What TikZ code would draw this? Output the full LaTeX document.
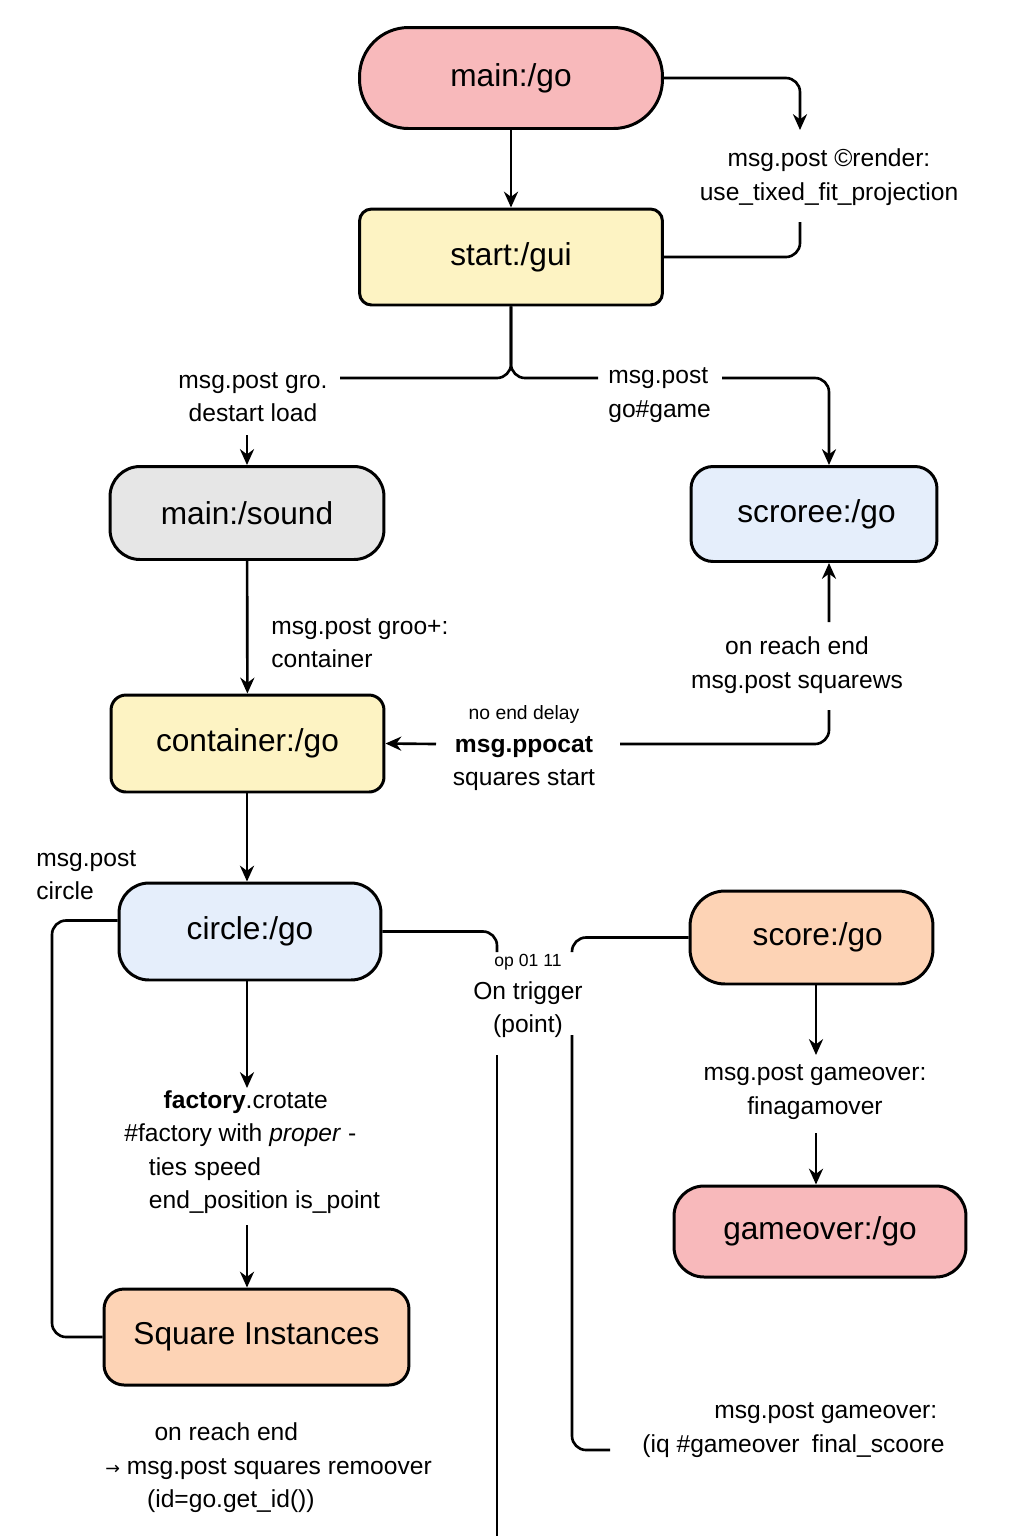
\documentclass[tikz,border=0pt]{standalone}
\usepackage{fontspec}
\setmainfont{Liberation Sans}
\newfontfamily\symfont{DejaVu Sans}
\usepackage{tikz}
\usetikzlibrary{arrows.meta}
\definecolor{pinkfill}{HTML}{F8B9BB}
\definecolor{yellowfill}{HTML}{FDF3C3}
\definecolor{grayfill}{HTML}{E6E6E6}
\definecolor{bluefill}{HTML}{E5EEFB}
\definecolor{peachfill}{HTML}{FDD3B5}
\begin{document}
\begin{tikzpicture}[x=0.02cm,y=-0.02cm]
    \tikzstyle{edge}  = [line width=1.5pt,rounded corners=8pt,draw=black]
    \tikzstyle{dedge} = [line width=1.5pt,rounded corners=8pt,->,>={Stealth[length=9pt,width=8pt]},draw=black]
    \tikzstyle{box}=[
      draw=black,
      line width=1.7pt,
      inner sep=0pt,
      font=\fontsize{18}{22}\selectfont,
    ]
    \tikzstyle{lbl}=[inner sep=0pt,align=center,font=\fontsize{14}{19}\selectfont]

    \useasboundingbox (0,0) rectangle (1024,1536);

    % boxes
    \node[box,fill=pinkfill,rounded corners=0.98cm,minimum width=6.06cm,minimum height=2.02cm] (main) at (511,78) {\raisebox{-2pt}{main:/go}};
    \node[box,fill=yellowfill,rounded corners=0.24cm,minimum width=6.06cm,minimum height=1.92cm] (start) at (511,257) {\raisebox{-2pt}{start:/gui}};
    \node[box,fill=grayfill,rounded corners=0.6cm,minimum width=5.48cm,minimum height=1.86cm] (sound) at (247,513) {main:/sound};
    \node[box,fill=bluefill,rounded corners=0.44cm,minimum width=4.92cm,minimum height=1.9cm] (scroree) at (814,514) {\hspace*{0.1cm}\raisebox{-2pt}{scroree:/go}};
    \node[box,fill=yellowfill,rounded corners=0.3cm,minimum width=5.46cm,minimum height=1.94cm] (container) at (247.5,743.5) {\raisebox{-2pt}{container:/go}};
    \node[box,fill=bluefill,rounded corners=0.6cm,minimum width=5.24cm,minimum height=1.94cm] (circle) at (250,931.5) {\raisebox{-2pt}{circle:/go}};
    \node[box,fill=peachfill,rounded corners=0.7cm,minimum width=4.86cm,minimum height=1.86cm] (score) at (811.5,937.5) {\hspace*{0.25cm}\raisebox{-2pt}{score:/go}};
    \node[box,fill=pinkfill,rounded corners=0.6cm,minimum width=5.84cm,minimum height=1.82cm] (gameover) at (820,1231.5) {\raisebox{-2pt}{gameover:/go}};
    \node[box,fill=peachfill,rounded corners=0.4cm,minimum width=6.1cm,minimum height=1.92cm] (square) at (256.5,1337) {\raisebox{-2pt}{Square Instances}};

    % labels
    \node[lbl] (render) at (829,177) {msg.post ©render:\\use\_tixed\_fit\_projection};
    \node[lbl] (gro) at (253,397) {msg.post gro.\\destart load};
    \node[lbl,anchor=west,align=left] (game) at (608,395) {msg.post\\go\#game};
    \node[lbl,anchor=west,align=left] (groo) at (271,643) {msg.post groo+:\\container};
    \node[lbl] (reach) at (797,665) {on reach end\\msg.post squarews};
    \node[lbl] (delay) at (524,748) {{\fontsize{11}{14}\selectfont no end delay}\\\textbf{msg.ppocat}\\squares start};
    \node[lbl,anchor=west,align=left] (post) at (36,875) {msg.post\\circle};
    \node[lbl] (trigger) at (528,996) {{\fontsize{10}{13}\selectfont op 01 11}\\On trigger\\(point)};
    \node[lbl,anchor=west,align=left] (factory) at (124,1152) {\hspace*{1.6em}\textbf{factory}.crotate\\\#factory with \textit{proper} -\\\hspace*{1em}ties speed\\\hspace*{1em}end\_position is\_point};
    \node[lbl,anchor=west,align=left] (remove) at (105,1468) {\hspace*{2em}on reach end\\{\symfont\fontsize{10}{12}\selectfont →} msg.post squares remoover\\\hspace*{1.7em}(id=go.get\_id())};
    \node[lbl] (final) at (815,1092) {msg.post gameover:\\finagamover};
    \node[lbl,anchor=east,align=right] (scoore) at (945,1430) {msg.post gameover:\hspace*{0.3em}\\(iq \#gameover\enspace final\_scoore};

    % free ends
    \coordinate (r1) at (800,130);
    \coordinate (r2) at (800,222);
    \coordinate (l1) at (340,378);
    \coordinate (l2) at (598,378);
    \coordinate (l3) at (247,435);
    \coordinate (l4) at (722,378);
    \coordinate (s1) at (829,622);
    \coordinate (s2) at (829,710);
    \coordinate (s3) at (620,744);
    \coordinate (s4) at (436,744);
    \coordinate (c1) at (52,1100);
    \coordinate (f1) at (247,1088);
    \coordinate (f2) at (247,1225);
    \coordinate (t1) at (497,952);
    \coordinate (t2) at (572,952);
    \coordinate (t3) at (497,1055);
    \coordinate (t4) at (497,1536);
    \coordinate (t5) at (572,1035);
    \coordinate (t6) at (610,1450);
    \coordinate (g1) at (816,1055);
    \coordinate (g2) at (816,1133);

    % connectors
    \draw[dedge] (main) -- (start);
    \draw[dedge] (main.east) -| (r1);
    \draw[edge] (r2) |- (start.east);
    \draw[edge] (start.south) |- (l1);
    \draw[edge] (start.south) |- (l2);
    \draw[dedge] (l3) -- (sound.north);
    \draw[dedge] (l4) -| ([xshift=0.3cm]scroree.north);
    \draw[dedge] (sound) -- (container);
    \draw[dedge] (s1) -- ([xshift=0.3cm]scroree.south);
    \draw[edge] (s2) |- (s3);
    \draw[dedge] (s4) -- (container.east);
    \draw[dedge] (container.south -| f1) -- (f1 |- circle.north);
    \draw[edge] ([yshift=0.22cm]circle.west) -| (c1) |- (square.west);
    \draw[dedge] (circle.south -| f1) -- (f1);
    \draw[dedge] (f2) -- (f2 |- square.north);
    \draw[edge] (circle.east) -| (t1);
    \draw[edge] (score.west) -| (t2);
    \draw[edge] (t3) -- (t4);
    \draw[edge] (t5) |- (t6);
    \draw[dedge] (score.south -| g1) -- (g1);
    \draw[dedge] (g2) -- (g2 |- gameover.north);
  \end{tikzpicture}
\end{document}
